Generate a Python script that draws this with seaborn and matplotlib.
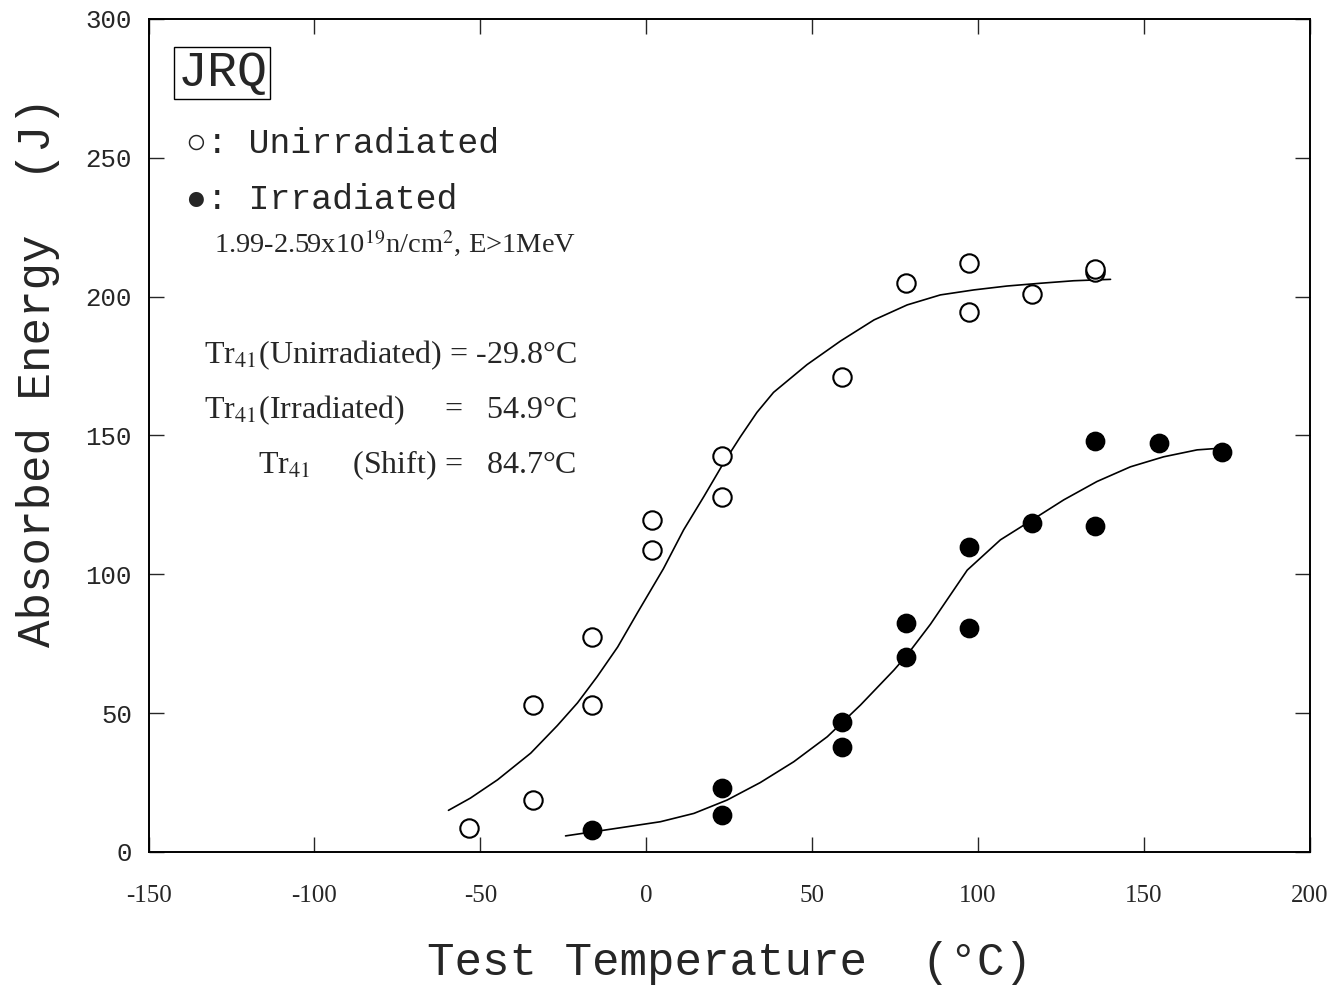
import numpy as np
import pandas as pd
import matplotlib
matplotlib.use('Agg')
import matplotlib.pyplot as plt
import seaborn as sns

# Dados (JRQ, ensaio Charpy)
temp_unirr = [-53.3, -34.2, -34.2, -16.2, -16.2, 1.9, 1.9, 23, 23, 59.1, 78.2, 97.3, 97.3, 116.3, 135.4, 135.4]
energy_unirr = [8.6, 18.7, 53, 53, 77.4, 108.7, 119.5, 128, 142.6, 171, 205, 212, 194.5, 201, 209, 210]

temp_irr = [-16.2, 23, 23, 59.1, 59.1, 78.2, 78.2, 97.3, 97.3, 116.3, 135.4, 135.4, 154.5, 173.6]
energy_irr = [8, 23, 13.3, 46.8, 37.8, 82.5, 70.2, 109.8, 80.7, 118.5, 148, 117.4, 147.3, 144]

# Curvas de ajuste (pontos lidos sobre as linhas do grafico)
curve_unirr_t = [-59.6, -53, -44.8, -34.8, -26.8, -20.7, -14.8, -8.6, -2.7, 5.2, 11.3, 17.4,
                 23.3, 28.4, 33.4, 38.4, 48.5, 58.6, 68.7, 78.7, 88.7, 98.8, 108.8, 118.9,
                 128.9, 140.0]
curve_unirr_e = [15, 19.4, 26, 35.6, 45.5, 53.7, 63.1, 73.8, 86, 102, 116, 128,
                 140, 149.5, 158.3, 165.5, 175.5, 184, 191.6, 197, 200.6, 202.4, 203.8, 204.8,
                 205.7, 206.2]

curve_irr_t = [-24.3, -15.8, -5.7, 4.3, 14.4, 24.4, 34.4, 44.5, 54.6, 64.6, 74.7, 78.7,
               85.7, 96.8, 106.8, 116.4, 125.9, 135.9, 146, 156, 166.1, 173.1]
curve_irr_e = [5.8, 7.3, 9.1, 10.9, 13.9, 18.7, 25, 32.5, 41.5, 52.9, 65.5, 71,
               82, 101.5, 112.4, 119.6, 126.8, 133.4, 138.7, 142.3, 144.8, 145.4]

x_ticks = [-150, -100, -50, 0, 50, 100, 150, 200]
y_ticks = [0, 50, 100, 150, 200, 250, 300]

df_u = pd.DataFrame({'T': temp_unirr, 'E': energy_unirr})
df_i = pd.DataFrame({'T': temp_irr, 'E': energy_irr})
cu = pd.DataFrame({'T': curve_unirr_t, 'E': curve_unirr_e})
ci = pd.DataFrame({'T': curve_irr_t, 'E': curve_irr_e})

sns.set_style('ticks')
plt.rcParams['mathtext.fontset'] = 'stix'
plt.rcParams['axes.unicode_minus'] = False

fig = plt.figure(figsize=(13.39, 9.93), dpi=100)
ax = fig.add_axes([0.111, 0.142, 0.867, 0.839])

sns.lineplot(data=cu, x='T', y='E', ax=ax, color='black', lw=1.2, sort=False, estimator=None)
sns.lineplot(data=ci, x='T', y='E', ax=ax, color='black', lw=1.2, sort=False, estimator=None)
sns.scatterplot(data=df_u, x='T', y='E', ax=ax, s=175, facecolor='white', edgecolor='black',
                linewidth=1.5, zorder=3)
sns.scatterplot(data=df_i, x='T', y='E', ax=ax, s=175, color='black', edgecolor='black',
                linewidth=1, zorder=3)

ax.set_xlim(-150, 200)
ax.set_ylim(0, 300)
ax.set_xticks(x_ticks)
ax.set_yticks(y_ticks)
ax.tick_params(direction='in', length=11, width=1, top=True, right=True)
ax.tick_params(axis='x', pad=24)
ax.tick_params(axis='y', pad=12)
for lab in ax.get_xticklabels():
    lab.set_fontfamily('Liberation Serif')
    lab.set_fontsize(18)
for lab in ax.get_yticklabels():
    lab.set_fontfamily('Liberation Mono')
    lab.set_fontsize(18.5)
for sp in ax.spines.values():
    sp.set_linewidth(1.4)
    sp.set_color('black')

ax.set_xlabel('Test Temperature  (°C)', fontsize=33, family='Liberation Mono', labelpad=24)
ax.set_ylabel('Absorbed Energy  (J)', fontsize=33, family='Liberation Mono')
ax.yaxis.set_label_coords(-0.076, 0.576)

# Anotacoes
ax.text(-127.8, 280.5, 'JRQ', fontsize=36, family='Liberation Mono', ha='center', va='center',
        bbox=dict(boxstyle='square,pad=0.06', fc='white', ec='black', lw=1))
ax.text(-138.7, 255.3, '○: Unirradiated', fontsize=25, family=['Liberation Mono', 'DejaVu Sans'],
        ha='left', va='center')
ax.text(-138.7, 234.8, '●: Irradiated', fontsize=25, family=['Liberation Mono', 'DejaVu Sans'],
        ha='left', va='center')
ax.text(-130.3, 219.3, r'1.99-2.59x10$^{19}$n/cm$^{2}$, E>1MeV', fontsize=20.5,
        family='Liberation Serif', ha='left', va='center')

ax.text(-21, 179, r'Tr$_{41}$(Unirradiated) = -29.8°C', fontsize=23,
        family='Liberation Serif', ha='right', va='center')
ax.text(-21, 159.2, r'Tr$_{41}$(Irradiated)     =   54.9°C', fontsize=23,
        family='Liberation Serif', ha='right', va='center')
ax.text(-21, 139.4, r'Tr$_{41}$     (Shift) =   84.7°C', fontsize=23,
        family='Liberation Serif', ha='right', va='center')

fig.savefig('out.png', dpi=100)
